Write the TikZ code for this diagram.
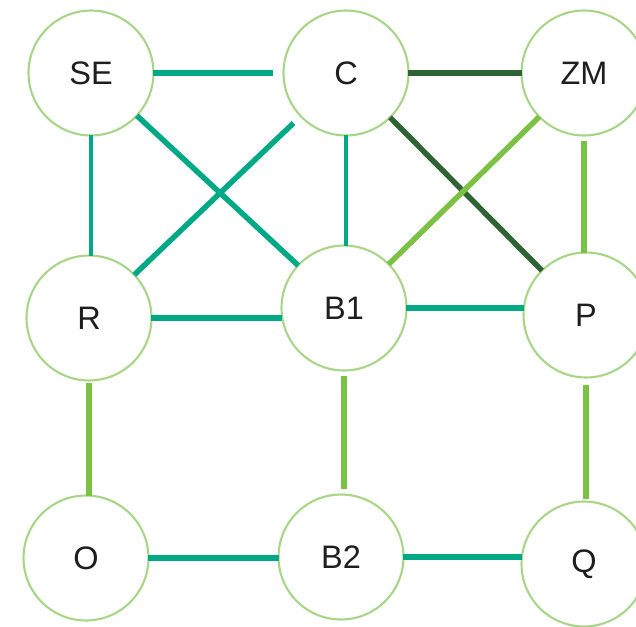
\documentclass[tikz,border=0pt]{standalone}
\usepackage{fontspec}
\setmainfont{Liberation Sans}
\usepackage{tikz}
\usetikzlibrary{calc}
\definecolor{RingGreen}{HTML}{A8D688}
\definecolor{LinkTeal}{HTML}{00A985}
\definecolor{LinkDark}{HTML}{2E6334}
\definecolor{LinkLight}{HTML}{7BC143}
\definecolor{LabelInk}{HTML}{1E1E1E}

\begin{document}
\begin{tikzpicture}[
  x=0.02cm,
  y=-0.02cm,
  party/.style={
    circle,
    draw=RingGreen,
    fill=white,
    line width=1.2pt,
    minimum size=2.5cm,
    inner sep=0pt,
    outer sep=0pt,
    text=LabelInk,
    font=\fontsize{18.5}{20}\selectfont
  },
  teal/.style={draw=LinkTeal,line width=3.1pt},
  thinteal/.style={draw=LinkTeal,line width=2.6pt},
  dark/.style={draw=LinkDark,line width=3.1pt},
  light/.style={draw=LinkLight,line width=3.1pt}
]
\useasboundingbox (0,0) rectangle (636,626);

\node[party] (se) at (91,73) {SE};
\node[party] (c) at (346,73) {C};
\node[party] (zm) at (584,73) {ZM};

\node[party] (r) at (89,318) {R};
\node[party] (b1) at (344,308) {B1};
\node[party] (p) at (586,315) {P};

\node[party] (o) at (86,558) {O};
\node[party] (b2) at (341,557) {B2};
\node[party] (q) at (584,564) {Q};

% top row
\draw[teal,shorten >=0.22cm] (se.east) -- (c.west);
\draw[dark] (c.east) -- (zm.west);

% crossings
\draw[teal] (se) -- (b1);
\draw[teal,shorten <=0.2cm] (c) -- (r);
\draw[dark] (c) -- (p);
\draw[light] (zm) -- (b1);

% verticals, upper
\draw[thinteal] (se.south) -- (se.south |- r.north);
\draw[thinteal] (c.south) -- (c.south |- b1.north);
\draw[light,shorten <=0.12cm] (zm.south) -- (zm.south |- p.north);

% middle row
\draw[teal] (r.east) -- (r.east -| b1.west);
\draw[teal] (b1.east) -- (b1.east -| p.west);

% verticals, lower
\draw[light,shorten <=0.06cm] (r.south) -- (r.south |- o.north);
\draw[light,shorten <=0.12cm,shorten >=0.12cm] (b1.south) -- (b1.south |- b2.north);
\draw[light,shorten <=0.16cm,shorten >=0.06cm] (p.south) -- (p.south |- q.north);

% bottom row
\draw[teal] (o.east) -- (o.east -| b2.west);
\draw[teal] (b2.east) -- (b2.east -| q.west);
\end{tikzpicture}
\end{document}
